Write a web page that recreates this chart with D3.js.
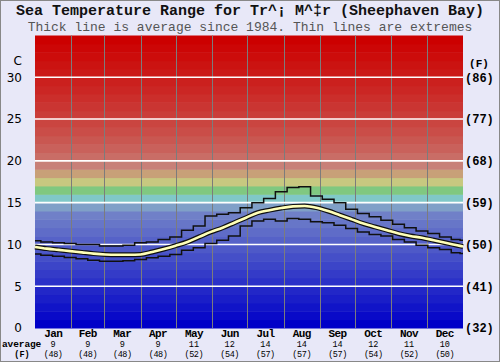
<!DOCTYPE html>
<html><head><meta charset="utf-8">
<script src="https://cdn.jsdelivr.net/npm/d3@7"></script>
<style>
html,body{margin:0;padding:0;background:#e8e8f8;}
svg{display:block;}
</style></head>
<body>
<script>
const months = ["Jan","Feb","Mar","Apr","May","Jun","Jul","Aug","Sep","Oct","Nov","Dec"];
const monthStartDays = [0,31,59,90,120,151,181,212,243,273,304,334,365];
const avgC = [9,9,9,9,11,12,14,14,14,12,11,10];
const avgF = [48,48,48,48,52,54,57,57,57,54,52,50];
const yTicksC = [0,5,10,15,20,25,30];
const days = [0,10,20,30,40,50,60,70,80,90,100,110,120,130,140,150,160,170,180,190,200,210,220,230,240,250,260,270,280,290,300,310,320,330,340,350,360,365];
const avgLine = [9.7,9.5,9.35,9.2,9.05,8.9,8.8,8.77,8.77,8.8,9.1,9.45,9.85,10.3,10.9,11.5,12.0,12.6,13.2,13.8,14.1,14.35,14.55,14.6,14.4,14.0,13.5,13.0,12.5,12.1,11.7,11.3,11.0,10.8,10.5,10.2,9.9,9.75];
const maxLine = [10.45,10.3,10.2,10.1,10.0,10.0,9.8,9.8,9.9,10.2,10.3,10.6,10.9,11.7,12.2,13.4,13.6,13.8,14.4,15.0,15.5,16.3,16.8,16.9,15.8,15.4,15.0,14.2,13.7,13.3,12.9,12.4,12.0,11.6,11.3,10.9,10.6,10.5];
const minLine = [8.85,8.7,8.6,8.45,8.3,8.1,8.0,8.0,8.05,8.2,8.4,8.6,8.8,9.3,9.6,10.1,10.5,11.0,12.2,12.8,13.0,12.8,13.1,13.0,12.7,12.6,12.3,11.9,11.5,11.2,11.0,10.6,10.3,9.9,9.6,9.4,9.0,8.9];

const W = 500, H = 362;
const svg = d3.select("body").append("svg").attr("width", W).attr("height", H);
svg.append("rect").attr("x",0.5).attr("y",0.5).attr("width",W-1).attr("height",H-1)
  .attr("fill","#e8e8f8").attr("stroke","#888");

const x = d3.scaleLinear().domain([0,365]).range([35,463]);
const y = d3.scaleLinear().domain([0,35]).range([328,35.5]);

// colour bands, 1 degree each
function bandColor(t){
  const fixed = {19:[200,128,120],18:[200,160,120],17:[200,200,128],16:[128,200,128],15:[128,200,200],14:[128,160,200]};
  if (fixed[t]) return d3.rgb(...fixed[t]);
  if (t < 14) {
    const f = t/13;
    return d3.rgb(0+112*f, 0+128*f, 200);
  }
  const f = Math.pow((t-19)/15, 0.7);
  return d3.rgb(200+4*f, 128*(1-f), 120*(1-f));
}
const bands = d3.range(0,35);
svg.append("g").selectAll("rect").data(bands).join("rect")
  .attr("x", x(0)).attr("width", x(365)-x(0))
  .attr("y", d => y(d+1)).attr("height", d => y(d)-y(d+1)+0.5)
  .attr("fill", d => bandColor(d));

// vertical month grid
svg.append("g").selectAll("line").data(monthStartDays.slice(1,12)).join("line")
  .attr("x1", d => Math.round(x(d))+0.5).attr("x2", d => Math.round(x(d))+0.5)
  .attr("y1", y(35)).attr("y2", y(0))
  .attr("stroke","#7c7c7c").attr("stroke-width",1);

// horizontal white lines
svg.append("g").selectAll("line").data(yTicksC.slice(1)).join("line")
  .attr("x1", x(0)).attr("x2", x(365))
  .attr("y1", d => y(d)).attr("y2", d => y(d))
  .attr("stroke","#ffffff").attr("stroke-width",1.6);

const pts = arr => days.map((d,i)=>[d,arr[i]]);
const stepLine = d3.line().x(d=>x(d[0])).y(d=>y(d[1])).curve(d3.curveStep);
const smoothLine = d3.line().x(d=>x(d[0])).y(d=>y(d[1])).curve(d3.curveMonotoneX);

[maxLine, minLine].forEach(arr => {
  svg.append("path").attr("d", stepLine(pts(arr))).attr("fill","none")
    .attr("stroke","#101010").attr("stroke-width",1.5);
});
svg.append("path").attr("d", smoothLine(pts(avgLine))).attr("fill","none")
  .attr("stroke","#101010").attr("stroke-width",5);
svg.append("path").attr("d", smoothLine(pts(avgLine))).attr("fill","none")
  .attr("stroke","#ffffb8").attr("stroke-width",2.6);

// left axis
const leftAxis = d3.axisLeft(y).tickValues(yTicksC).tickSize(0).tickPadding(0);
const gl = svg.append("g").attr("transform","translate(22,0)").call(leftAxis);
gl.select(".domain").remove();
gl.selectAll("text").attr("font-family","DejaVu Sans, Verdana, sans-serif")
  .attr("font-size","12px").attr("fill","#000");
svg.append("text").attr("x",22).attr("y",61).attr("dy","0.35em").attr("text-anchor","end")
  .attr("font-family","DejaVu Sans, Verdana, sans-serif").attr("font-size","12px").text("C");

// right axis (F)
const rightAxis = d3.axisRight(y).tickValues(yTicksC).tickSize(0).tickPadding(0)
  .tickFormat(d => "(" + Math.round(d*9/5+32) + ")");
const gr = svg.append("g").attr("transform","translate(465,0)").call(rightAxis);
gr.select(".domain").remove();
gr.selectAll("text").attr("font-family","Liberation Mono, Courier New, monospace")
  .attr("font-weight","bold").attr("font-size","12px").attr("fill","#000");
svg.append("text").attr("x",479).attr("y",63).attr("dy","0.35em").attr("text-anchor","middle")
  .attr("font-family","Liberation Mono, monospace").attr("font-weight","bold").attr("font-size","11px").text("(F)");

// month labels
const mid = i => x((monthStartDays[i]+monthStartDays[i+1])/2);
const mono = "Liberation Mono, Courier New, monospace";
svg.append("g").selectAll("text").data(months).join("text")
  .attr("x",(d,i)=>mid(i)).attr("y",336.5).attr("text-anchor","middle")
  .attr("font-family",mono).attr("font-weight","bold").attr("font-size","11px")
  .attr("letter-spacing","-0.6px").text(d=>d);
svg.append("g").selectAll("text").data(avgC).join("text")
  .attr("x",(d,i)=>mid(i)).attr("y",347).attr("text-anchor","middle")
  .attr("font-family",mono).attr("font-size","8.5px").text(d=>d);
svg.append("g").selectAll("text").data(avgF).join("text")
  .attr("x",(d,i)=>mid(i)).attr("y",357).attr("text-anchor","middle")
  .attr("font-family",mono).attr("font-size","8.5px").attr("letter-spacing","-0.4px").text(d=>"("+d+")");
svg.append("text").attr("x",2).attr("y",346.5).attr("font-family",mono).attr("font-weight","bold")
  .attr("font-size","9.5px").attr("letter-spacing","-0.1px").text("average");
svg.append("text").attr("x",22).attr("y",357).attr("text-anchor","middle").attr("font-family",mono)
  .attr("font-weight","bold").attr("font-size","8.5px").text("(F)");

// titles
svg.append("text").attr("x",250).attr("y",14.5).attr("text-anchor","middle")
  .attr("font-family",mono).attr("font-weight","bold").attr("font-size","15px").attr("fill","#111")
  .text("Sea Temperature Range for Tr^¡ M^‡r (Sheephaven Bay)");
svg.append("text").attr("x",250).attr("y",30.5).attr("text-anchor","middle")
  .attr("font-family",mono).attr("font-size","13px").attr("fill","#555")
  .text("Thick line is average since 1984. Thin lines are extremes");
</script>
</body></html>
